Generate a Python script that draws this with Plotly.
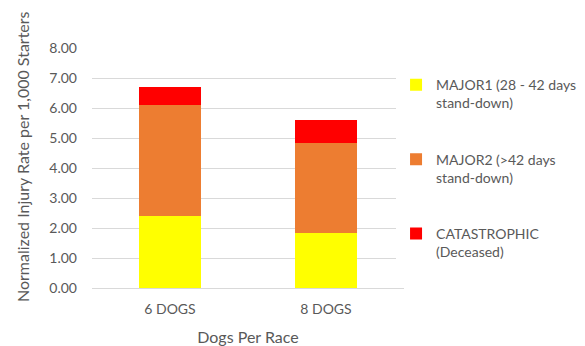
import plotly.graph_objects as go

categories = ["6 DOGS", "8 DOGS"]
major1 = [2.41, 1.85]
major2 = [3.68, 2.97]
catastrophic = [0.62, 0.79]
series_names = ["MAJOR1 (28 - 42 days<br>stand-down)", "MAJOR2 (>42 days<br>stand-down)", "CATASTROPHIC<br>(Deceased)"]
colors = ["#FFFF00", "#ED7D31", "#FF0000"]
y_ticks = [0, 1, 2, 3, 4, 5, 6, 7, 8]
y_title = "Normalized Injury Rate per 1,000 Starters"
x_title = "Dogs Per Race"

fig = go.Figure()
for i, (vals, name, col) in enumerate(zip([major1, major2, catastrophic], series_names, colors)):
    fig.add_trace(go.Bar(x=categories, y=vals, name=name, marker=dict(color=col, line=dict(width=0)),
                         legendgroup=f"g{i}"))

font_fam = "Lato, 'Open Sans', sans-serif"
fig.update_layout(
    barmode="stack",
    bargap=0.6,
    width=585, height=346,
    margin=dict(l=92, r=181, t=48, b=58, autoexpand=False),
    paper_bgcolor="white", plot_bgcolor="white",
    font=dict(family=font_fam, size=14, color="#595959"),
    legend=dict(xref="container", yref="container", x=0.677, xanchor="left", y=0.80, yanchor="top",
                traceorder="grouped", valign="top", maxheight=320,
                tracegroupgap=35, font=dict(size=14, color="#595959"), itemwidth=30),
    yaxis=dict(range=[0, 8], tickvals=y_ticks, tickformat=".2f", showgrid=True, automargin=False,
               gridcolor="#D9D9D9", gridwidth=1, zeroline=False, showline=False,
               ticks="", ticklabelstandoff=14, tickfont=dict(size=14)),
    xaxis=dict(showline=True, linecolor="#D9D9D9", linewidth=1, ticks="", ticklabelstandoff=8, automargin=False,
               tickfont=dict(size=14),
               title=dict(text=x_title, font=dict(size=16, color="#595959"), standoff=16)),
    annotations=[dict(text=y_title, textangle=-90, xref="paper", yref="paper",
                      x=(22 - 92) / 312, y=(288 - 157) / 240, xanchor="center", yanchor="middle",
                      showarrow=False, font=dict(size=16, color="#595959"))],
)

fig.write_html("out.html")
